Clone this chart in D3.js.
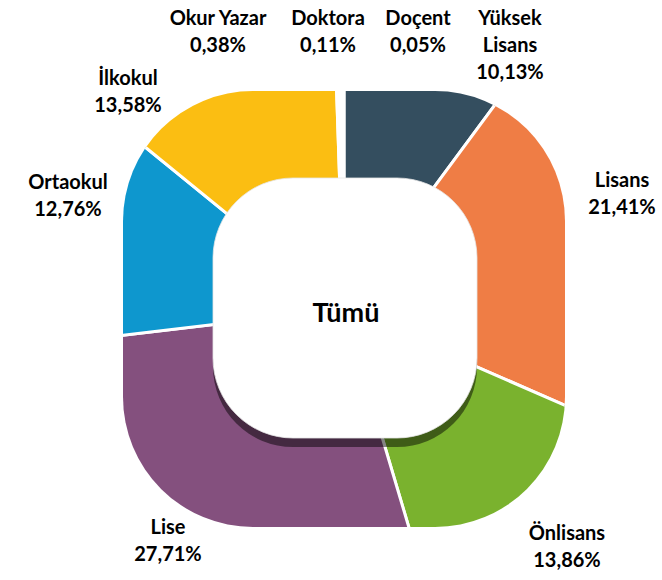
<!DOCTYPE html>
<html>
<head>
<meta charset="utf-8">
<script src="https://cdn.jsdelivr.net/npm/d3@7"></script>
<style>
  body { margin: 0; background: #fff; }
  text { font-family: Lato, "Open Sans", sans-serif; font-weight: bold; fill: #000; }
</style>
</head>
<body>
<script>
// education levels, clockwise from 12 o'clock
const categories = ["Yüksek Lisans", "Lisans", "Önlisans", "Lise", "Ortaokul", "İlkokul", "Okur Yazar", "Doktora", "Doçent"];
const shares = [10.13, 21.41, 13.86, 27.71, 12.76, 13.58, 0.38, 0.11, 0.05];
const colors = ["#344e5f", "#ef7d45", "#7ab22e", "#84507e", "#0e97ce", "#fbbe12", "#ffffff", "#ffffff", "#ffffff"];
const centerLabel = "Tümü";

// where each label sits (two or three lines, centred)
const labelPos = {
    "Yüksek Lisans": [510, 25, ["Yüksek", "Lisans"]],
    "Lisans": [622, 187],
    "Önlisans": [567, 540],
    "Lise": [168, 534],
    "Ortaokul": [68, 189],
    "İlkokul": [128, 85],
    "Okur Yazar": [218, 25],
    "Doktora": [328, 25],
    "Doçent": [418, 25]
};

const width = 662, height = 580;
const cx = 344, cy = 309;
const lineH = 27;

const svg = d3.select("body")
    .append("svg")
    .attr("width", width)
    .attr("height", height);

const defs = svg.append("defs");

// rounded square outline of the ring
defs.append("clipPath").attr("id", "outer")
    .append("rect")
    .attr("x", cx - 221).attr("y", cy - 218)
    .attr("width", 442).attr("height", 436)
    .attr("rx", 130).attr("ry", 130);

defs.append("filter").attr("id", "soft")
    .append("feGaussianBlur").attr("stdDeviation", 0.6);

const pie = d3.pie().sort(null).value(d => d);
const arc = d3.arc().innerRadius(0).outerRadius(420);

const slices = pie(shares);

const ring = svg.append("g").attr("clip-path", "url(#outer)");

ring.append("g")
    .attr("transform", `translate(${cx},${cy})`)
    .selectAll("path")
    .data(slices)
    .enter()
    .append("path")
    .attr("d", arc)
    .attr("fill", (d, i) => colors[i])
    .attr("stroke", "#fff")
    .attr("stroke-width", 3)
    .attr("stroke-linejoin", "round");

// the hole: a dark edge below, then the white face
ring.append("rect")
    .attr("x", 345 - 132).attr("y", 308 - 130 + 9)
    .attr("width", 264).attr("height", 260)
    .attr("rx", 80).attr("ry", 80)
    .attr("fill", "#000")
    .attr("opacity", 0.48)
    .attr("filter", "url(#soft)");

svg.append("rect")
    .attr("x", 345 - 132).attr("y", 308 - 130)
    .attr("width", 264).attr("height", 260)
    .attr("rx", 80).attr("ry", 80)
    .attr("fill", "#fff")
    .attr("stroke", "#e6e6e6")
    .attr("stroke-width", 0.8);

svg.append("text")
    .attr("x", 346).attr("y", 322)
    .attr("text-anchor", "middle")
    .style("font-size", "27px")
    .text(centerLabel);

// data labels
const fmt = v => v.toFixed(2).replace(".", ",") + "%";

const labels = svg.append("g")
    .selectAll("text")
    .data(categories)
    .enter()
    .append("text")
    .attr("text-anchor", "middle")
    .style("font-size", "20px");

labels.each(function (c, i) {
    const p = labelPos[c];
    const lines = (p[2] || [c]).concat([fmt(shares[i])]);
    d3.select(this).selectAll("tspan")
        .data(lines)
        .enter()
        .append("tspan")
        .attr("x", p[0])
        .attr("y", (d, k) => p[1] + k * lineH)
        .text(d => d);
});
</script>
</body>
</html>
